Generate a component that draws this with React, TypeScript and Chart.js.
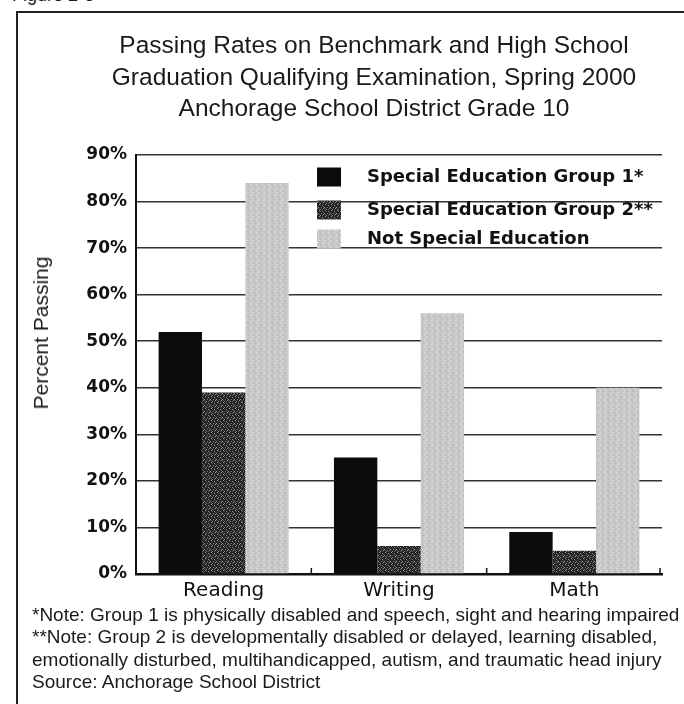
import React, { useEffect, useRef } from "react";
import { Chart, registerables } from "chart.js";

Chart.register(...registerables);

// ---- data ----
const categories = ["Reading", "Writing", "Math"];
const seriesLabels = [
  "Special Education Group 1*",
  "Special Education Group 2**",
  "Not Special Education",
];
const group1Values = [52, 25, 9];
const group2Values = [39, 6, 5];
const notSpecialValues = [84, 56, 40];
const yMin = 0;
const yMax = 90;
const yStep = 10;
const titleLines = [
  "Passing Rates on Benchmark and High School",
  "Graduation Qualifying Examination, Spring 2000",
  "Anchorage School District Grade 10",
];
const yAxisTitle = "Percent Passing";
const noteLines = [
  "*Note: Group 1 is physically disabled and speech, sight and hearing impaired",
  "**Note: Group 2 is developmentally disabled or delayed, learning disabled,",
  "emotionally disturbed, multihandicapped, autism, and traumatic head injury",
  "Source: Anchorage School District",
];
const figureLabel = "Figure 2-6";

type Spot = [number, number, string];

function makePattern(size: number, base: string, spots: Spot[]): CanvasPattern | string {
  const c = document.createElement("canvas");
  c.width = size;
  c.height = size;
  const g = c.getContext("2d");
  if (!g) return base;
  g.fillStyle = base;
  g.fillRect(0, 0, size, size);
  for (const [x, y, col] of spots) {
    g.fillStyle = col;
    g.fillRect(x, y, 1, 1);
  }
  const p = g.createPattern(c, "repeat");
  return p || base;
}

const legendAndTicksPlugin = {
  id: "legendAndTicks",
  afterDatasetsDraw(chart: any) {
    const { ctx, chartArea } = chart;
    const xScale = chart.scales.x;
    ctx.save();
    // small upward tick marks at category boundaries
    ctx.strokeStyle = "#111";
    ctx.lineWidth = 1.5;
    const n = chart.data.labels.length;
    for (let i = 0; i < n; i++) {
      const half = (xScale.getPixelForValue(1) - xScale.getPixelForValue(0)) / 2;
      let xx = xScale.getPixelForValue(i) + half;
      if (i === n - 1) xx -= 2;
      ctx.beginPath();
      ctx.moveTo(xx, chartArea.bottom);
      ctx.lineTo(xx, chartArea.bottom - 6);
      ctx.stroke();
    }
    // legend inside the plot
    const boxX = chartArea.left + 181;
    const textX = chartArea.left + 231;
    const rowOffsets = [22, 55, 84];
    ctx.font = "bold 18px 'DejaVu Sans'";
    ctx.textBaseline = "middle";
    ctx.textAlign = "left";
    chart.data.datasets.forEach((ds: any, i: number) => {
      const cy = chartArea.top + rowOffsets[i];
      ctx.fillStyle = ds.backgroundColor;
      ctx.fillRect(boxX, cy - 9.5, 24, 19);
      ctx.fillStyle = "#111";
      ctx.fillText(ds.label, textX, cy);
    });
    ctx.restore();
  },
};

export default function App() {
  const canvasRef = useRef<HTMLCanvasElement | null>(null);

  useEffect(() => {
    const canvas = canvasRef.current;
    if (!canvas) return;
    const g2Pattern = makePattern(6, "#222222", [
      [1, 0, "#9a9a9a"],
      [4, 1, "#8c8c8c"],
      [0, 3, "#a0a0a0"],
      [3, 3, "#7a7a7a"],
      [5, 4, "#959595"],
      [2, 5, "#888888"],
      [2, 1, "#4a4a4a"],
      [5, 2, "#555555"],
      [1, 4, "#4f4f4f"],
      [4, 5, "#5a5a5a"],
    ]);
    const nsPattern = makePattern(6, "#c8c8c8", [
      [0, 0, "#e0e0e0"],
      [3, 1, "#b2b2b2"],
      [5, 2, "#dedede"],
      [1, 3, "#b8b8b8"],
      [4, 4, "#e4e4e4"],
      [2, 5, "#b0b0b0"],
      [0, 2, "#d6d6d6"],
    ]);

    const chart = new Chart(canvas, {
      type: "bar",
      data: {
        labels: categories,
        datasets: [
          { label: seriesLabels[0], data: group1Values, backgroundColor: "#0b0b0b", borderWidth: 0 },
          { label: seriesLabels[1], data: group2Values, backgroundColor: g2Pattern as any, borderWidth: 0 },
          { label: seriesLabels[2], data: notSpecialValues, backgroundColor: nsPattern as any, borderWidth: 0 },
        ],
      },
      options: {
        responsive: false,
        maintainAspectRatio: false,
        animation: false,
        devicePixelRatio: 1,
        layout: { padding: { left: 60, right: 22, top: 155, bottom: 0 } },
        datasets: { bar: { barPercentage: 1, categoryPercentage: 0.742 } },
        plugins: {
          legend: { display: false },
          tooltip: { enabled: false },
          title: { display: false },
        },
        scales: {
          x: {
            grid: { display: false },
            border: { display: true, color: "#111", width: 2.5 },
            ticks: {
              color: "#111",
              font: { family: "'DejaVu Sans'", size: 20 },
              padding: -3,
            },
            afterFit: (s: any) => {
              s.height = 36;
            },
          },
          y: {
            min: yMin,
            max: yMax,
            ticks: {
              stepSize: yStep,
              color: "#111",
              font: { family: "'DejaVu Sans'", size: 17, weight: "bold" },
              padding: 9,
              callback: (v: any) => `${v}%`,
            },
            grid: { color: "#333", lineWidth: 1.5, drawTicks: false },
            border: { display: true, color: "#111", width: 2 },
            afterFit: (s: any) => {
              s.width = 76;
            },
          },
        },
      },
      plugins: [legendAndTicksPlugin],
    });
    return () => chart.destroy();
  }, []);

  return (
    <div
      style={{
        position: "fixed",
        left: 0,
        top: 0,
        width: 684,
        height: 704,
        background: "#fff",
        overflow: "hidden",
        fontFamily: "'Liberation Sans', Arial, sans-serif",
        color: "#1a1a1a",
      }}
    >
      <div style={{ position: "absolute", left: 12, top: -15, fontSize: 18, whiteSpace: "nowrap" }}>
        {figureLabel}
      </div>
      <div
        style={{
          position: "absolute",
          left: 16,
          top: 11,
          width: 720,
          height: 720,
          borderLeft: "2px solid #222",
          borderTop: "2px solid #222",
        }}
      />
      <canvas
        ref={canvasRef}
        width={684}
        height={610}
        style={{ position: "absolute", left: 0, top: 0, width: 684, height: 610 }}
      />
      <div
        style={{
          position: "absolute",
          left: 64,
          width: 620,
          top: 29,
          textAlign: "center",
          fontSize: 24.5,
          lineHeight: "31.5px",
          whiteSpace: "nowrap",
        }}
      >
        {titleLines.map((t, i) => (
          <div key={i}>{t}</div>
        ))}
      </div>
      <div
        style={{
          position: "absolute",
          left: 41,
          top: 333,
          transform: "translate(-50%, -50%) rotate(-90deg)",
          fontSize: 21,
          whiteSpace: "nowrap",
        }}
      >
        {yAxisTitle}
      </div>
      <div
        style={{
          position: "absolute",
          left: 32,
          top: 603.5,
          fontSize: 19,
          lineHeight: "22.5px",
          whiteSpace: "nowrap",
        }}
      >
        {noteLines.map((t, i) => (
          <div key={i}>{t}</div>
        ))}
      </div>
    </div>
  );
}
